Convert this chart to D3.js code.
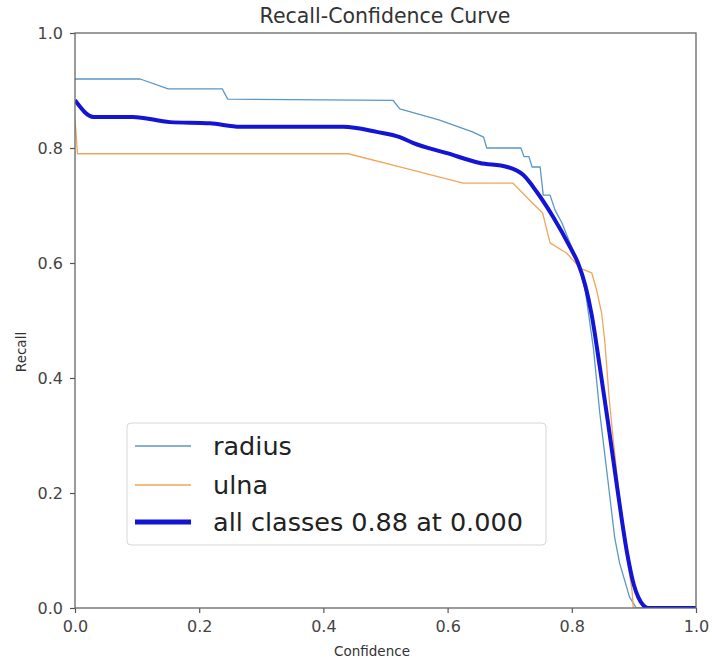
<!DOCTYPE html>
<html><head><meta charset="utf-8">
<script src="https://cdn.jsdelivr.net/npm/d3@7"></script>
<style>body{margin:0;background:#fff}svg{display:block}text{font-family:"DejaVu Sans",sans-serif}</style>
</head><body><svg id="c" width="712" height="661"></svg>
<script>
const title = "Recall-Confidence Curve";
const xLabel = "Confidence";
const yLabel = "Recall";
const ticks = [0, 0.2, 0.4, 0.6, 0.8, 1.0];
const seriesNames = ["radius", "ulna", "all classes 0.88 at 0.000"];

const radiusX = [0, 0.105, 0.15, 0.237, 0.246, 0.512, 0.523, 0.586, 0.64, 0.658, 0.663, 0.718, 0.723, 0.731, 0.736, 0.749, 0.754, 0.765, 0.773, 0.784, 0.797, 0.809, 0.822, 0.835, 0.845, 0.858, 0.869, 0.877, 0.893, 0.904, 1.0];
const radiusY = [0.92, 0.92, 0.903, 0.903, 0.885, 0.883, 0.868, 0.849, 0.828, 0.819, 0.8, 0.8, 0.785, 0.785, 0.767, 0.767, 0.718, 0.718, 0.692, 0.67, 0.635, 0.605, 0.55, 0.45, 0.34, 0.223, 0.123, 0.078, 0.019, 0.0, 0.0];

const ulnaX = [0, 0.004, 0.44, 0.523, 0.625, 0.705, 0.737, 0.753, 0.765, 0.792, 0.813, 0.832, 0.840, 0.848, 0.853, 0.857, 0.860, 0.866, 0.876, 0.887, 0.897, 0.899, 1.0];
const ulnaY = [0.85, 0.79, 0.79, 0.767, 0.739, 0.739, 0.704, 0.687, 0.635, 0.617, 0.591, 0.583, 0.553, 0.513, 0.466, 0.409, 0.367, 0.3, 0.2, 0.1, 0.03, 0.0, 0.0];

const allX = [0, 0.03, 0.093, 0.153, 0.217, 0.266, 0.432, 0.486, 0.523, 0.544, 0.599, 0.652, 0.696, 0.722, 0.744, 0.77, 0.797, 0.81, 0.822, 0.832, 0.845, 0.858, 0.873, 0.889, 0.9, 0.907, 0.915, 0.923, 1.0];
const allY = [0.883, 0.854, 0.854, 0.845, 0.843, 0.837, 0.837, 0.828, 0.819, 0.809, 0.791, 0.774, 0.767, 0.753, 0.723, 0.68, 0.628, 0.6, 0.56, 0.51, 0.42, 0.325, 0.21, 0.096, 0.04, 0.019, 0.005, 0.0, 0.0];

const colors = ["#5b97c4", "#f0a65a", "#1414d4"];
const widths = [1.3, 1.3, 4];

const svg = d3.select("#c");
const L = 75, R = 696, T = 33, B = 608;
const x = d3.scaleLinear().domain([0, 1]).range([L, R]);
const y = d3.scaleLinear().domain([0, 1]).range([B, T]);

svg.append("clipPath").attr("id","clip").append("rect").attr("x",L).attr("y",T-3).attr("width",R-L).attr("height",B-T+3);
const g = svg.append("g").attr("clip-path","url(#clip)");
const mk = (xs, ys) => xs.map((v,i)=>[v, ys[i]]);
const lin = d3.line().x(d=>x(d[0])).y(d=>y(d[1]));
const smooth = d3.line().x(d=>x(d[0])).y(d=>y(d[1])).curve(d3.curveMonotoneX);
const data = [mk(radiusX, radiusY), mk(ulnaX, ulnaY), mk(allX, allY)];
data.forEach((d,i)=>{
  g.append("path").attr("d", i===2 ? smooth(d) : lin(d)).attr("fill","none")
   .attr("stroke", colors[i]).attr("stroke-width", widths[i]).attr("stroke-linejoin","round");
});

const ax = svg.append("g").attr("transform",`translate(0,${B})`).call(d3.axisBottom(x).tickValues(ticks).tickFormat(d3.format(".1f")).tickSize(5).tickPadding(7).tickSizeOuter(0));
const ay = svg.append("g").attr("transform",`translate(${L},0)`).call(d3.axisLeft(y).tickValues(ticks).tickFormat(d3.format(".1f")).tickSize(5).tickPadding(7).tickSizeOuter(0));
[ax, ay].forEach(a=>{
  a.select(".domain").remove();
  a.selectAll("line").attr("stroke","#555").attr("stroke-width",1.2);
  a.selectAll("text").attr("font-size",16).attr("fill","#444").attr("font-family","DejaVu Sans");
});
ax.selectAll("text").attr("dy","0.78em");
svg.append("rect").attr("x",L).attr("y",T).attr("width",R-L).attr("height",B-T).attr("fill","none").attr("stroke","#666").attr("stroke-width",1.3);

svg.append("text").attr("x",385).attr("y",23).attr("text-anchor","middle").attr("font-size",20.5).attr("fill","#333").text(title);
svg.append("text").attr("x",372).attr("y",656).attr("text-anchor","middle").attr("font-size",13.5).attr("fill","#333").text(xLabel);
svg.append("text").attr("transform","translate(26,352) rotate(-90)").attr("text-anchor","middle").attr("font-size",13.5).attr("fill","#333").text(yLabel);

const lg = svg.append("g");
lg.append("rect").attr("x",127).attr("y",423).attr("width",419).attr("height",122).attr("rx",4)
  .attr("fill","rgba(255,255,255,0.8)").attr("stroke","#d6d6d6").attr("stroke-width",1);
const ly = [446, 485, 522];
seriesNames.forEach((n,i)=>{
  lg.append("line").attr("x1",135).attr("x2",191).attr("y1",ly[i]).attr("y2",ly[i])
    .attr("stroke",colors[i]).attr("stroke-width", i===2?5:1.5);
  lg.append("text").attr("x",213).attr("y",ly[i]).attr("dy","0.35em").attr("font-size",25.5).attr("fill","#222").text(n);
});
</script></body></html>
